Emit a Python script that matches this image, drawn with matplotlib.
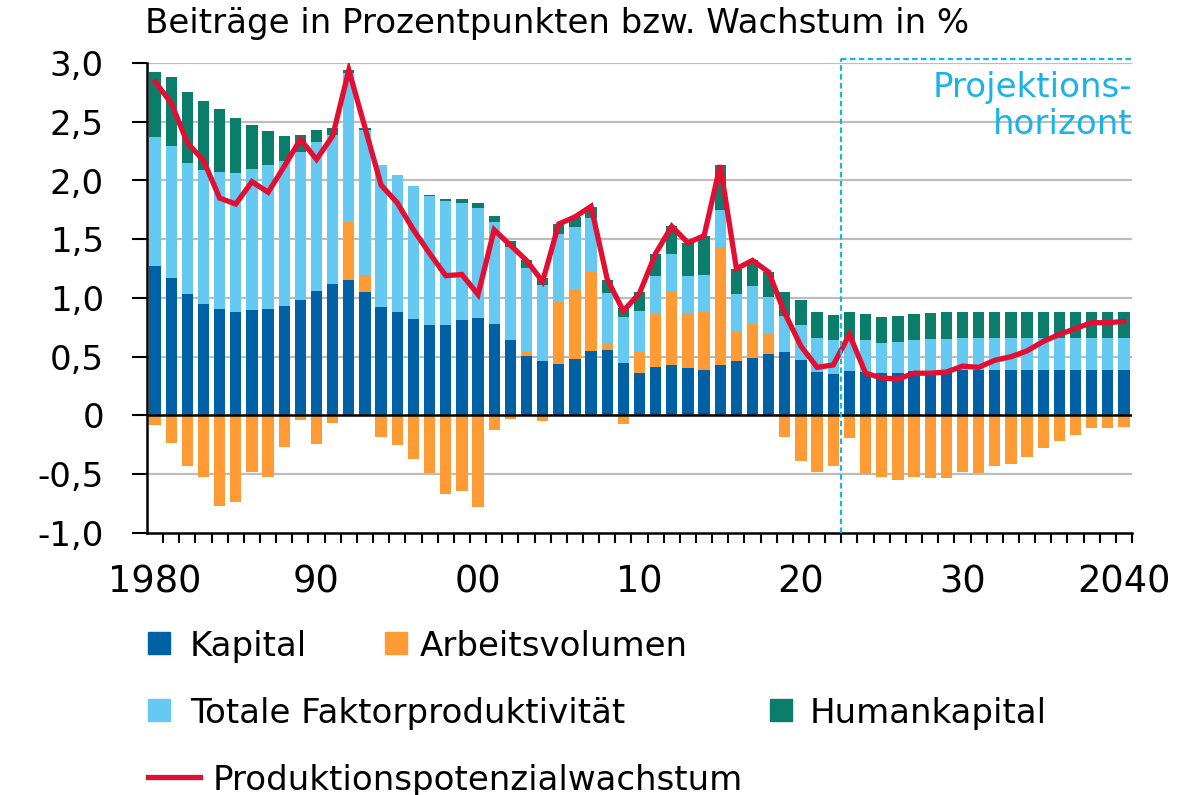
import numpy as np
import matplotlib
matplotlib.use("Agg")
import matplotlib.pyplot as plt
from matplotlib.patches import Rectangle
from matplotlib.lines import Line2D

years = list(range(1980, 2041))

kapital = [1.27, 1.17, 1.03, 0.95, 0.91, 0.88, 0.90, 0.91, 0.93, 0.98,
           1.06, 1.12, 1.15, 1.05, 0.92, 0.88, 0.82, 0.77, 0.77, 0.81,
           0.83, 0.78, 0.64, 0.51, 0.46, 0.44, 0.48, 0.55, 0.56, 0.45,
           0.36, 0.41, 0.43, 0.40, 0.39, 0.43, 0.46, 0.49, 0.52, 0.54,
           0.47, 0.37, 0.35, 0.38, 0.37, 0.36, 0.36, 0.38, 0.38, 0.38,
           0.386, 0.386, 0.386, 0.386, 0.386, 0.386, 0.386, 0.386, 0.386, 0.386, 0.386]

arbeit = [-0.085, -0.23, -0.43, -0.52, -0.77, -0.74, -0.48, -0.52, -0.27, -0.04,
          -0.24, -0.06, 0.50, 0.15, -0.18, -0.25, -0.37, -0.49, -0.67, -0.64,
          -0.78, -0.12, -0.03, 0.03, -0.05, 0.53, 0.60, 0.67, 0.06, -0.07,
          0.18, 0.45, 0.63, 0.47, 0.49, 1.00, 0.25, 0.29, 0.17, -0.18,
          -0.39, -0.48, -0.43, -0.19, -0.50, -0.52, -0.545, -0.52, -0.53, -0.53,
          -0.48, -0.49, -0.43, -0.41, -0.35, -0.28, -0.22, -0.17, -0.11, -0.105, -0.095]

tfp = [1.10, 1.12, 1.12, 1.14, 1.16, 1.185, 1.20, 1.22, 1.24, 1.26,
       1.27, 1.27, 1.265, 1.233, 1.21, 1.17, 1.13, 1.096, 1.054, 1.00,
       0.934, 0.868, 0.792, 0.716, 0.649, 0.578, 0.522, 0.459, 0.424, 0.387,
       0.353, 0.323, 0.318, 0.318, 0.32, 0.323, 0.32, 0.326, 0.317, 0.305,
       0.296, 0.291, 0.291, 0.264, 0.272, 0.261, 0.267, 0.264, 0.269, 0.272,
       0.272, 0.272, 0.272, 0.272, 0.272, 0.272, 0.272, 0.272, 0.272, 0.272, 0.272]

human = [0.55, 0.587, 0.60, 0.584, 0.542, 0.465, 0.371, 0.289, 0.21, 0.145,
         0.10, 0.06, 0.023, 0.017, 0.0, 0.0, 0.0, 0.01, 0.022, 0.031,
         0.043, 0.052, 0.057, 0.071, 0.062, 0.086, 0.088, 0.099, 0.11, 0.079,
         0.159, 0.195, 0.239, 0.281, 0.326, 0.38, 0.218, 0.221, 0.218, 0.21,
         0.215, 0.221, 0.218, 0.235, 0.224, 0.221, 0.221, 0.224, 0.224, 0.23,
         0.227, 0.227, 0.227, 0.227, 0.227, 0.227, 0.227, 0.227, 0.227, 0.227, 0.227]

potenzial = [2.84, 2.66, 2.32, 2.17, 1.85, 1.80, 1.99, 1.90, 2.12, 2.35,
             2.18, 2.38, 2.94, 2.45, 1.96, 1.81, 1.58, 1.38, 1.19, 1.20,
             1.03, 1.58, 1.45, 1.32, 1.14, 1.63, 1.69, 1.78, 1.16, 0.89,
             1.04, 1.38, 1.61, 1.47, 1.53, 2.13, 1.25, 1.32, 1.22, 0.87,
             0.59, 0.41, 0.43, 0.69, 0.36, 0.32, 0.31, 0.36, 0.36, 0.37,
             0.42, 0.41, 0.47, 0.50, 0.55, 0.63, 0.69, 0.74, 0.79, 0.79, 0.80]

tick_pos = [1980, 1990, 2000, 2010, 2020, 2030, 2040]
tick_lab = ["1980", "90", "00", "10", "20", "30", "2040"]
y_ticks = [-1.0, -0.5, 0, 0.5, 1.0, 1.5, 2.0, 2.5, 3.0]
y_labs = ["-1,0", "-0,5", "0", "0,5", "1,0", "1,5", "2,0", "2,5", "3,0"]
proj_start = 2022.5

labels = ["Kapital", "Arbeitsvolumen", "Totale Faktorproduktivität",
          "Humankapital", "Produktionspotenzialwachstum"]

C_K = "#0062A4"
C_A = "#FF9B35"
C_T = "#66C9F2"
C_H = "#0A7D6B"
C_R = "#E30F33"
C_P = "#1AB3E8"
C_G = "#BDBDBD"

plt.rcParams['font.family'] = ['DejaVu Sans']
FS = 24.5

W, H = 1186, 795
fig = plt.figure(figsize=(W / 100, H / 100), dpi=100)
ax = fig.add_axes([147 / W, 1 - 533 / H, (1132 - 147) / W, (533 - 63) / H])

x = np.array(years, dtype=float)
k = np.array(kapital)
a = np.array(arbeit)
t = np.array(tfp)
h = np.array(human)
apos = np.clip(a, 0, None)
aneg = np.clip(a, None, 0)

bw = 0.7
ax.bar(x, k, bw, color=C_K, zorder=2)
ax.bar(x, apos, bw, bottom=k, color=C_A, zorder=2)
ax.bar(x, aneg, bw, color=C_A, zorder=2)
ax.bar(x, t, bw, bottom=k + apos, color=C_T, zorder=2)
ax.bar(x, h, bw, bottom=k + apos + t, color=C_H, zorder=2)
ax.plot(x, potenzial, color=C_R, lw=3.8, zorder=4, solid_joinstyle='miter')

ax.set_xlim(1979.5, 2040.5)
ax.set_ylim(-1.0, 3.0)

for yv in y_ticks:
    if yv not in (0, -1.0):
        ax.axhline(yv, color=C_G, lw=1.6, zorder=1)
ax.axhline(0, color="black", lw=1.8, zorder=3)

ax.set_yticks(y_ticks)
ax.set_yticklabels(y_labs, fontsize=FS)
ax.tick_params(axis='y', length=11, width=1.5, pad=20, direction='out')

ax.set_xticks(tick_pos)
ax.set_xticklabels(tick_lab, fontsize=FS + 2)
ax.set_xticks(np.arange(1980.5, 2040.6, 1.0), minor=True)
ax.tick_params(axis='x', which='major', length=0, pad=22)
ax.tick_params(axis='x', which='minor', length=7.5, width=1.5, direction='out')

for s in ['top', 'right']:
    ax.spines[s].set_visible(False)
for s in ['left', 'bottom']:
    ax.spines[s].set_linewidth(1.8)

# projection horizon box
ax.plot([proj_start, proj_start], [-1.0, 3.03], color=C_P, lw=1.6,
        ls=(0, (2.5, 1.5)), clip_on=False, zorder=5)
ax.plot([proj_start, 2040.5], [3.03, 3.03], color=C_P, lw=1.6,
        ls=(0, (2.5, 1.5)), clip_on=False, zorder=5)
ax.text(2040.5, 2.93, "Projektions-\nhorizont", color=C_P, fontsize=FS,
        ha='right', va='top', linespacing=1.15, zorder=6)

# title
fig.text(145 / W, 1 - 24 / H, "Beiträge in Prozentpunkten bzw. Wachstum in %",
         fontsize=FS, ha='left', va='center')

# legend (manual layout)
def sq(xp, yc, col):
    fig.add_artist(Rectangle((xp / W, 1 - (yc + 11) / H), 22 / W, 22 / H,
                             transform=fig.transFigure, color=col))

def lab(xp, yc, s):
    fig.text(xp / W, 1 - yc / H, s, fontsize=FS, ha='left', va='center_baseline')

sq(148, 643, C_K); lab(190, 643, labels[0])
sq(385, 643, C_A); lab(420, 643, labels[1])
sq(148, 710, C_T); lab(190, 710, labels[2])
sq(770, 710, C_H); lab(810, 710, labels[3])
fig.add_artist(Line2D([148 / W, 200 / W], [1 - 777 / H, 1 - 777 / H],
                      transform=fig.transFigure, color=C_R, lw=3.8))
lab(213, 777, labels[4])

fig.savefig("out.png", dpi=100)
